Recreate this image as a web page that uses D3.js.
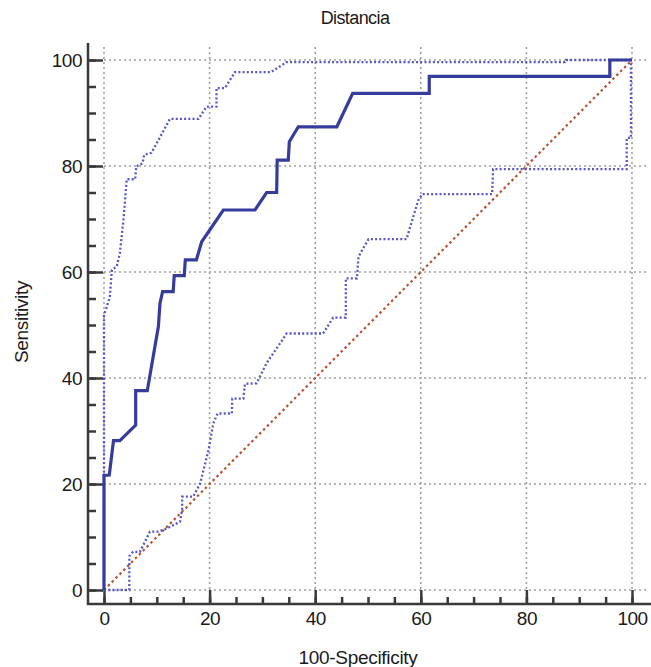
<!DOCTYPE html>
<html lang="es">
<head>
<meta charset="UTF-8">
<title>Distancia</title>
<script src="https://cdn.jsdelivr.net/npm/d3@7/dist/d3.min.js"></script>
<style>
  * { margin: 0; padding: 0; }
  body { background: #fff; overflow: hidden; }
  svg { display: block; font-family: 'Liberation Sans', Arial, sans-serif; }
</style>
</head>
<body>
<svg width="651" height="667"></svg>
<script>
// ROC curve (100-Specificity, Sensitivity)
const rocX = [0, 0, 1, 1.8, 3, 6, 6, 8.2, 10.3, 10.6, 11.1, 13.1, 13.3, 15.2, 15.4, 17.5, 18.5, 22.6, 28.6, 30.8, 32.7, 32.8, 34.9, 35.1, 36.8, 44.1, 47.1, 61.6, 61.6, 95.8, 95.8, 100];
const rocY = [0, 21.6, 21.7, 28.2, 28.2, 31.1, 37.6, 37.6, 49.7, 54.1, 56.3, 56.3, 59.3, 59.3, 62.3, 62.3, 65.7, 71.7, 71.7, 75, 75, 81.1, 81.1, 84.6, 87.4, 87.4, 93.7, 93.7, 96.9, 96.9, 100, 100];

// upper confidence bound
const upperX = [0, 0, 0.4, 1.1, 1.5, 2.4, 3, 3.7, 4.3, 5.9, 6.1, 7.3, 7.6, 9, 12.5, 17.9, 19.4, 21.3, 21.3, 22.9, 24.8, 31.6, 34.6, 87.3, 87.5, 100];
const upperY = [0, 52, 53, 55.3, 60.4, 61, 63.5, 70, 77.5, 77.5, 79.9, 80.5, 82.1, 82.5, 88.9, 88.9, 91.2, 91.2, 94.7, 94.7, 97.7, 97.7, 99.6, 99.6, 100, 100];

// lower confidence bound
const lowerX = [0, 4.8, 4.8, 5.5, 6.8, 8.7, 10.3, 11.9, 14.4, 14.8, 14.8, 16.9, 18.2, 19.8, 20.7, 21.5, 24.2, 24.3, 26.4, 26.7, 28.9, 30.8, 34.6, 41.5, 43.4, 45.8, 45.8, 47.9, 48.2, 50.1, 57.3, 59.5, 60.3, 73.5, 73.7, 99, 99, 99.8, 99.8, 100];
const lowerY = [0, 0, 6.4, 7.2, 7.2, 11, 11, 11.6, 12.9, 15.2, 17.6, 17.6, 20.1, 26.4, 31.4, 33.3, 33.3, 36.1, 36.1, 38.9, 39, 42.8, 48.4, 48.4, 51.4, 51.4, 58.8, 58.8, 62.9, 66.2, 66.2, 73.5, 74.7, 74.7, 79.4, 79.4, 85.3, 85.3, 100, 100];

// reference diagonal
const diagX = [0, 100];
const diagY = [0, 100];

const majorTicks = [0, 20, 40, 60, 80, 100];
const minorTicks = d3.range(0, 101, 5);

const svg = d3.select('svg');
const x = d3.scaleLinear().domain([0, 100]).range([104, 632]);
const y = d3.scaleLinear().domain([0, 100]).range([590, 60]);

const axisX = 88;   // left axis line sits off the data area
const axisY = 604;  // bottom axis line

// grid
const grid = svg.append('g')
  .attr('stroke', '#a0a0a0')
  .attr('stroke-width', 1.6)
  .attr('stroke-dasharray', '2,3');
grid.selectAll('line.v').data(majorTicks).join('line')
  .attr('x1', d => x(d)).attr('x2', d => x(d))
  .attr('y1', y(100) - 13).attr('y2', y(0));
grid.selectAll('line.h').data(majorTicks).join('line')
  .attr('x1', x(0)).attr('x2', x(100) + 15)
  .attr('y1', d => y(d)).attr('y2', d => y(d));

// axes
const fmt = d3.format('d');
const yMajor = svg.append('g').attr('transform', `translate(${axisX},0)`)
  .call(d3.axisLeft(y).tickValues(majorTicks).tickSize(-15).tickPadding(6).tickFormat(fmt));
const yMinor = svg.append('g').attr('transform', `translate(${axisX},0)`)
  .call(d3.axisLeft(y).tickValues(minorTicks).tickSize(-8).tickFormat(''));
const xMajor = svg.append('g').attr('transform', `translate(0,${axisY})`)
  .call(d3.axisBottom(x).tickValues(majorTicks).tickSize(-14).tickPadding(8).tickFormat(fmt));
const xMinor = svg.append('g').attr('transform', `translate(0,${axisY})`)
  .call(d3.axisBottom(x).tickValues(minorTicks).tickSize(-7).tickFormat(''));

[yMajor, yMinor, xMajor, xMinor].forEach(g => {
  g.select('.domain').remove();
  g.selectAll('line').attr('stroke', '#3a3a3a').attr('stroke-width', 2.5);
  g.selectAll('text').attr('fill', '#1a1a1a').attr('font-size', 19).attr('letter-spacing', -0.5);
});

svg.append('line')
  .attr('x1', axisX).attr('x2', axisX)
  .attr('y1', y(100) - 17).attr('y2', axisY + 1)
  .attr('stroke', '#3a3a3a').attr('stroke-width', 2.5);
svg.append('line')
  .attr('x1', axisX - 1).attr('x2', 651)
  .attr('y1', axisY).attr('y2', axisY)
  .attr('stroke', '#3a3a3a').attr('stroke-width', 2.5);

// curves
const line = d3.line().x(d => x(d[0])).y(d => y(d[1]));
const zip = (a, b) => a.map((v, i) => [v, b[i]]);

svg.append('path')
  .datum(zip(diagX, diagY))
  .attr('d', line)
  .attr('fill', 'none')
  .attr('stroke', '#b4532f')
  .attr('stroke-width', 2.2)
  .attr('stroke-dasharray', '2.5,3');

[zip(upperX, upperY), zip(lowerX, lowerY)].forEach(pts => {
  svg.append('path')
    .datum(pts)
    .attr('d', line)
    .attr('fill', 'none')
    .attr('stroke', '#5656c6')
    .attr('stroke-width', 2.3)
    .attr('stroke-dasharray', '2,2.2');
});

svg.append('path')
  .datum(zip(rocX, rocY))
  .attr('d', line)
  .attr('fill', 'none')
  .attr('stroke', '#363c9c')
  .attr('stroke-width', 3.2)
  .attr('stroke-linejoin', 'miter');

// titles
svg.append('text')
  .attr('x', 355).attr('y', 24)
  .attr('text-anchor', 'middle')
  .attr('font-size', 18)
  .attr('letter-spacing', -0.6)
  .attr('fill', '#1a1a1a')
  .text('Distancia');

svg.append('text')
  .attr('x', 358).attr('y', 664)
  .attr('text-anchor', 'middle')
  .attr('font-size', 19)
  .attr('letter-spacing', -0.3)
  .attr('fill', '#1a1a1a')
  .text('100-Specificity');

svg.append('text')
  .attr('transform', `translate(28,${(y(0) + y(100)) / 2 - 3}) rotate(-90)`)
  .attr('text-anchor', 'middle')
  .attr('font-size', 19)
  .attr('letter-spacing', -0.3)
  .attr('fill', '#1a1a1a')
  .text('Sensitivity');
</script>
</body>
</html>
